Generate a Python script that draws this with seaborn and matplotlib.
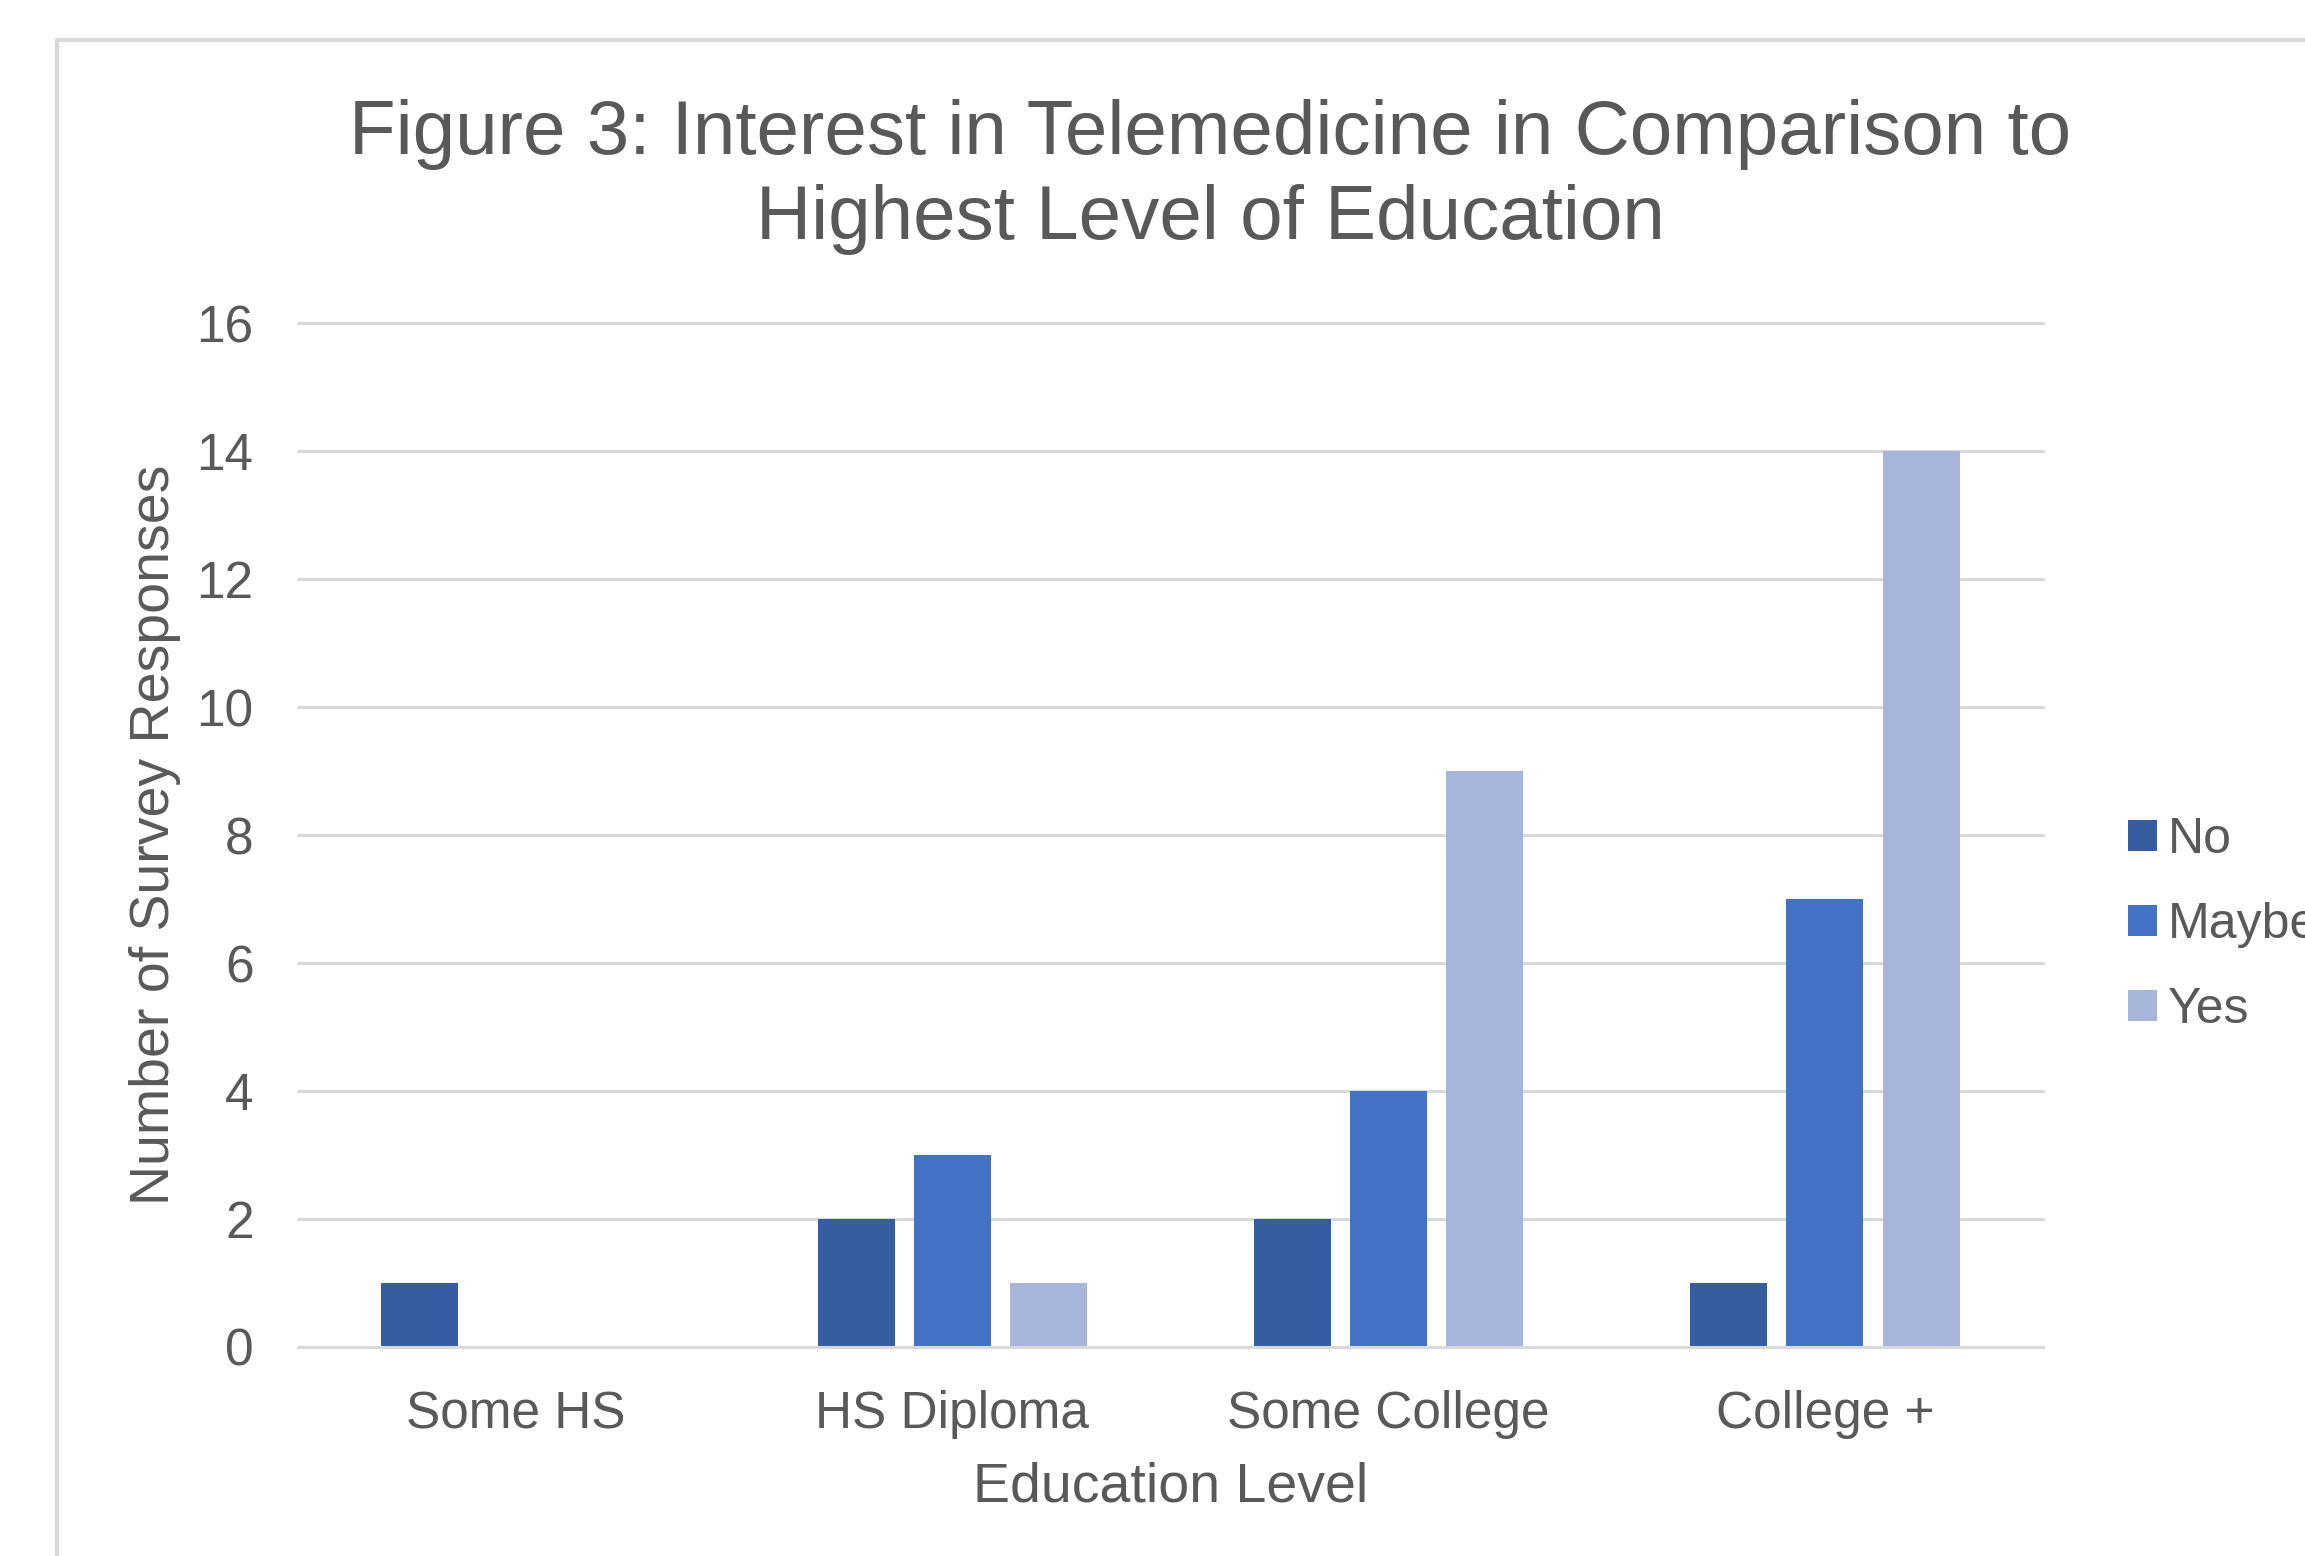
import matplotlib
matplotlib.use("Agg")
import matplotlib.pyplot as plt
from matplotlib.lines import Line2D
import pandas as pd
import seaborn as sns

# Survey counts by education level and telemedicine interest
education = ["Some HS", "HS Diploma", "Some College", "College +"]
responses = ["No", "Maybe", "Yes"]
no_counts = [1, 2, 2, 1]
maybe_counts = [0, 3, 4, 7]
yes_counts = [0, 1, 9, 14]
colors = ["#365D9F", "#4472C4", "#A7B5DA"]

rows = []
for i, level in enumerate(education):
    for resp, vals in zip(responses, [no_counts, maybe_counts, yes_counts]):
        rows.append({"Education Level": level, "Response": resp, "Count": vals[i]})
df = pd.DataFrame(rows)

sns.set_theme(style="white")
plt.rcParams["font.family"] = ["Liberation Sans", "DejaVu Sans"]
text_color = "#595959"
grid_color = "#D9D9D9"

W, H = 2305, 1556
fig = plt.figure(figsize=(W / 100, H / 100), dpi=100)
ax = fig.add_axes([298 / W, 1 - 1347 / H, (2043 - 298) / W, (1347 - 323) / H])

sns.barplot(
    data=df, x="Education Level", y="Count", hue="Response",
    order=education, hue_order=responses, palette=colors, saturation=1,
    width=0.662, gap=0.2, linewidth=0, ax=ax,
)

ax.set_ylim(0, 16)
ax.set_yticks(range(0, 17, 2))
ax.set_xlim(-0.5, len(education) - 0.5)

for side in ["left", "right", "top"]:
    ax.spines[side].set_visible(False)
ax.spines["bottom"].set_color(grid_color)
ax.spines["bottom"].set_linewidth(2.2)

ax.set_axisbelow(True)
ax.yaxis.grid(True, color=grid_color, linewidth=2.2)
ax.xaxis.grid(False)
for gl in ax.get_ygridlines():
    gl.set_clip_on(False)

ax.tick_params(axis="y", length=0, pad=32, labelsize=37, labelcolor=text_color)
ax.tick_params(axis="x", length=0, pad=31, labelsize=37, labelcolor=text_color)

ax.set_xlabel("Education Level", fontsize=40, color=text_color, va="center")
ax.xaxis.set_label_coords(0.5, (1347 - 1488) / 1024)
ax.set_ylabel("Number of Survey Responses", fontsize=40, color=text_color, va="center")
ax.yaxis.set_label_coords((155 - 298) / 1745, 0.5)

# Legend to the right of the plot area
handles, labels = ax.get_legend_handles_labels()
if ax.get_legend() is not None:
    ax.get_legend().remove()
fig.legend(
    handles, labels, loc="center left",
    bbox_to_anchor=(2128 / W, 1 - 925 / H), bbox_transform=fig.transFigure,
    frameon=False, fontsize=36, labelcolor=text_color,
    handlelength=0.57, handleheight=0.57, handletextpad=0.22,
    labelspacing=0.78, borderpad=0, borderaxespad=0,
)

fig.text(
    1210 / W, 1 - 239 / H,
    "Figure 3: Interest in Telemedicine in Comparison to\nHighest Level of Education",
    ha="center", va="baseline", multialignment="center",
    fontsize=55, color=text_color, linespacing=1.25,
)

# Chart border
fig.add_artist(Line2D([57 / W, 57 / W, 1.01], [-0.01, 1 - 40 / H, 1 - 40 / H],
                      transform=fig.transFigure, color=grid_color, linewidth=3))

fig.savefig("out.png", dpi=100, facecolor="white")
